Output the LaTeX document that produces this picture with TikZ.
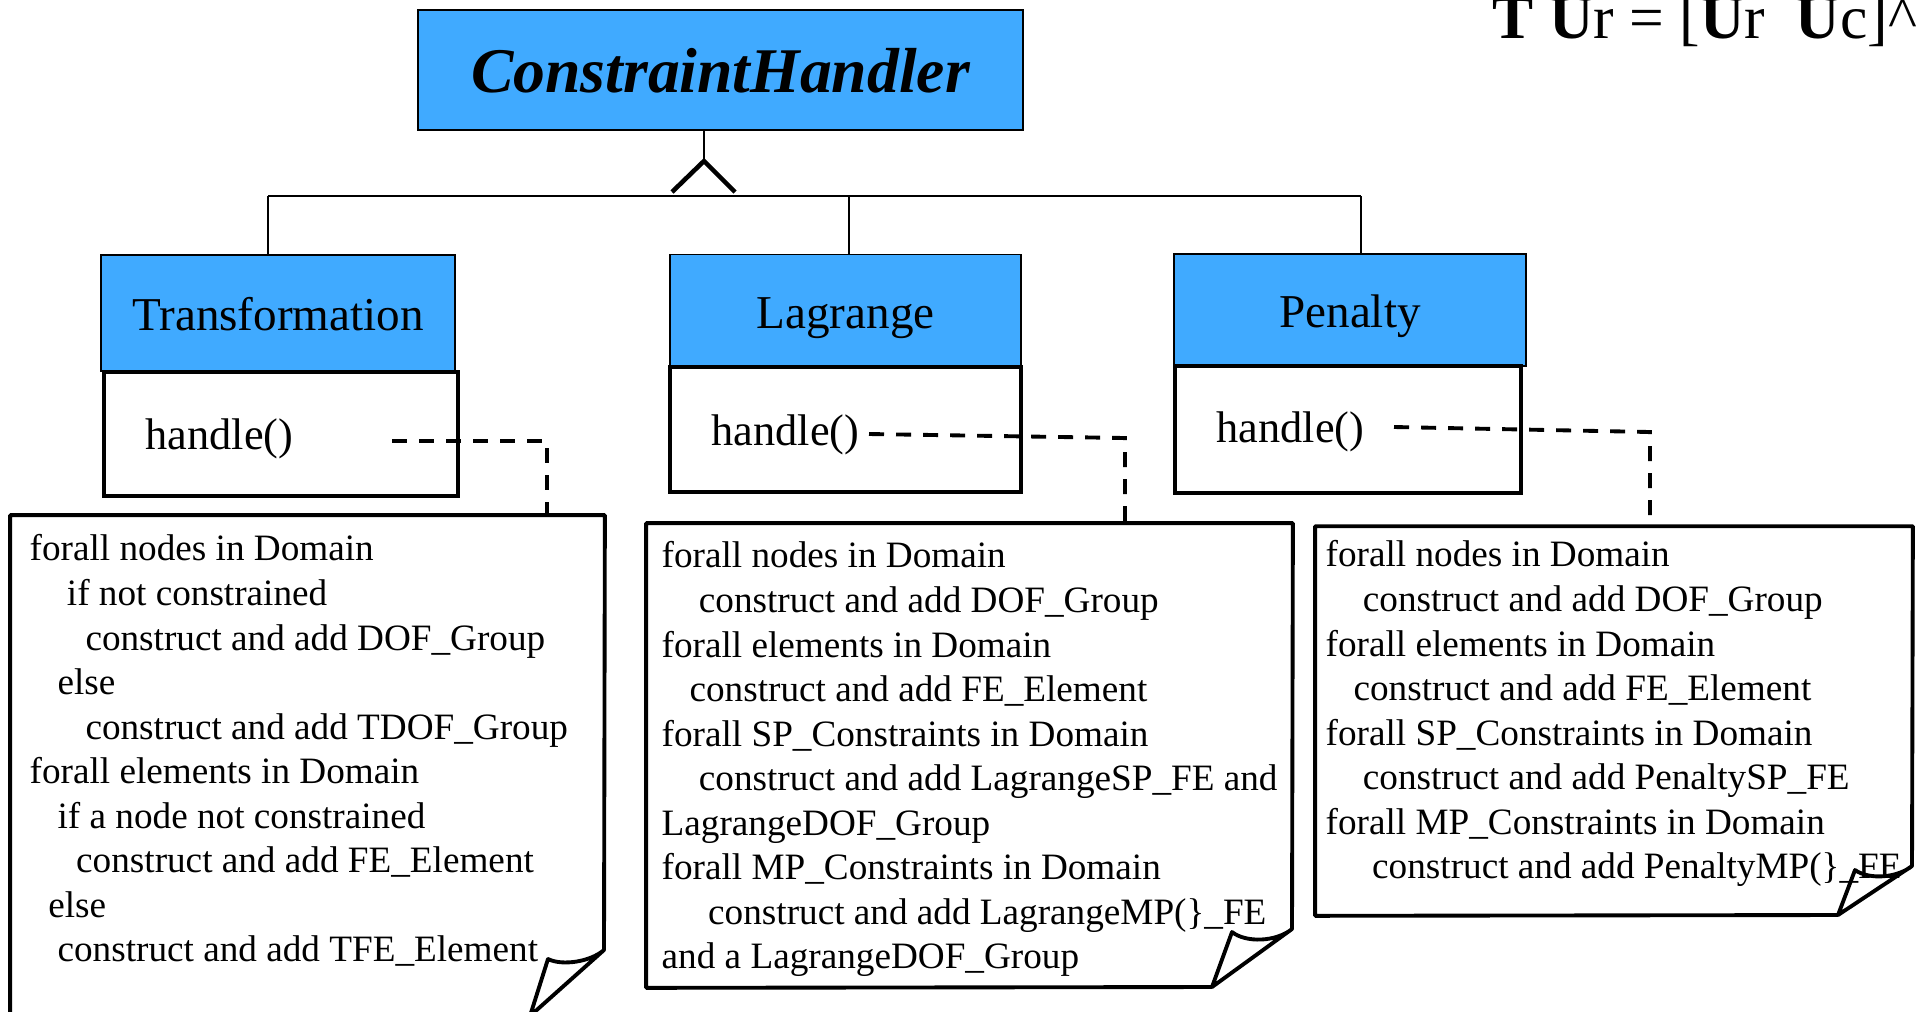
\documentclass[tikz,border=0pt]{standalone}
\usepackage{fontspec}
\setmainfont{Liberation Serif}
\definecolor{headblue}{RGB}{64,170,255}
\newcommand{\indt}[1]{\hspace*{#1\fontdimen2\font}}

\begin{document}
\begin{tikzpicture}[x=0.01cm, y=-0.01cm,
    headbox/.style={draw, fill=headblue, line width=0.5pt, inner sep=0pt,
      font=\fontsize{13.4pt}{16pt}\selectfont, text height=10.2pt, text depth=0pt},
    methbox/.style={draw, line width=0.95pt, inner sep=0pt},
    methtext/.style={anchor=base west, inner sep=0pt, font=\fontsize{12.6pt}{15pt}\selectfont},
    noteframe/.style={inner sep=0pt},
    notepen/.style={line width=1.1pt, line join=round},
    notetext/.style={anchor=north west, inner sep=0pt, align=left,
      font=\fontsize{10.58pt}{12.67pt}\selectfont},
    linkline/.style={line width=0.5pt},
    dashline/.style={line width=1.1pt, dash pattern=on 0.15cm off 0.12cm}]
    % picture in pixels: (0,0) to (1918,1011), y downwards

    \useasboundingbox (0,0) rectangle (1918,1011);

    % base class
    \node[headbox, minimum width=6.05cm, minimum height=1.2cm,
      font=\fontsize{18.1pt}{22pt}\selectfont\bfseries\itshape, text height=12.9pt]
      (handler) at (720.5,70) {ConstraintHandler};

    % formula, cut off at the top
    \node[anchor=base west, inner sep=0pt, font=\fontsize{17.5pt}{21pt}\selectfont]
      (formula) at (1492,38) {\textbf{T} \textbf{U}r = [\textbf{U}r\ \ \textbf{U}c]\textasciicircum};

    % inheritance triangle and tree lines
    \coordinate (apex) at (704,161);
    \draw[linkline] (apex |- handler.south) -- (apex);
    \draw[line width=1.3pt] ([shift={(-32,31)}]apex) -- (apex) -- ([shift={(31,31)}]apex);

    \coordinate (tjoin) at (268,196);
    \coordinate (ljoin) at (849,196);
    \coordinate (pjoin) at (1361,196);
    \draw[linkline] (tjoin) -- (pjoin);

    % subclasses
    \node[headbox, minimum width=3.54cm, minimum height=1.16cm] (thead) at (278,313) {Transformation};
    \node[methbox, minimum width=3.54cm, minimum height=1.24cm] (tmeth) at (281,434) {};
    \node[methtext] (thandle) at (145,449) {handle()};

    \node[headbox, minimum width=3.51cm, minimum height=1.13cm] (lhead) at (845.5,311) {Lagrange};
    \node[methbox, minimum width=3.51cm, minimum height=1.25cm] (lmeth) at (845.5,429.5) {};
    \node[methtext] (lhandle) at (711,445) {handle()};

    \node[headbox, minimum width=3.52cm, minimum height=1.12cm] (phead) at (1350,310) {Penalty};
    \node[methbox, minimum width=3.46cm, minimum height=1.27cm] (pmeth) at (1348,429.5) {};
    \node[methtext] (phandle) at (1216,442) {handle()};

    \draw[linkline] (tjoin) -- (tjoin |- thead.north);
    \draw[linkline] (ljoin) -- (ljoin |- lhead.north);
    \draw[linkline] (pjoin) -- (pjoin |- phead.north);

    % notes with folded corner
    \node[noteframe, minimum width=5.93cm, minimum height=5.0cm] (tnote) at (307.5,766) {};
    \draw[notepen] (530,1016) -- (tnote.south west) -- (tnote.north west) -- (tnote.north east)
      -- (604,950) .. controls (590,962) and (562,966) .. (548,959) -- (530,1016) -- (604,950);

    \node[noteframe, minimum width=6.45cm, minimum height=4.63cm] (lnote) at (969.5,755.5) {};
    \draw[notepen] (1212,987) -- (lnote.south west) -- (lnote.north west) -- (lnote.north east)
      -- (1292,929) .. controls (1276,942) and (1246,943) .. (1232,932) -- (1212,987) -- (1292,929);

    \node[noteframe, minimum width=5.96cm, minimum height=3.88cm] (pnote) at (1614,721) {};
    \draw[notepen] (1838,915) -- (pnote.south west) -- (pnote.north west) -- (pnote.north east)
      -- (1912,866) .. controls (1897,878) and (1869,880) .. (1855,870) -- (1838,915) -- (1912,866);

    % note texts
    \node[notetext] (ttext) at (29,529) {\strut forall nodes in Domain\\
      \indt{4}if not constrained\\
      \indt{6}construct and add DOF\_Group\\
      \indt{3}else\\
      \indt{6}construct and add TDOF\_Group\\
      forall elements in Domain\\
      \indt{3}if a node not constrained\\
      \indt{5}construct and add FE\_Element\\
      \indt{2}else\\
      \indt{3}construct and add TFE\_Element};

    \node[notetext] (ltext) at (661,536) {\strut forall nodes in Domain\\
      \indt{4}construct and add DOF\_Group\\
      forall elements in Domain\\
      \indt{3}construct and add FE\_Element\\
      forall SP\_Constraints in Domain\\
      \indt{4}construct and add LagrangeSP\_FE and\\
      LagrangeDOF\_Group\\
      forall MP\_Constraints in Domain\\
      \indt{5}construct and add LagrangeMP(\}\_FE\\
      and a LagrangeDOF\_Group};

    \node[notetext] (ptext) at (1325,535) {\strut forall nodes in Domain\\
      \indt{4}construct and add DOF\_Group\\
      forall elements in Domain\\
      \indt{3}construct and add FE\_Element\\
      forall SP\_Constraints in Domain\\
      \indt{4}construct and add PenaltySP\_FE\\
      forall MP\_Constraints in Domain\\
      \indt{5}construct and add PenaltyMP(\}\_FE};

    % dashed links from handle() to the notes
    \coordinate (tdash) at (392,441);
    \coordinate (tbend) at (547,441);
    \draw[dashline] (tdash) -- (tbend) -- (tbend |- tnote.north);

    \coordinate (ldash) at (869,434);
    \coordinate (lbend) at (1125,438);
    \draw[dashline] (ldash) -- (lbend) -- (lbend |- lnote.north);

    \coordinate (pdash) at (1394,427);
    \coordinate (pbend) at (1650,432);
    \draw[dashline] (pdash) -- (pbend) -- (pbend |- pnote.north);
\end{tikzpicture}
\end{document}
